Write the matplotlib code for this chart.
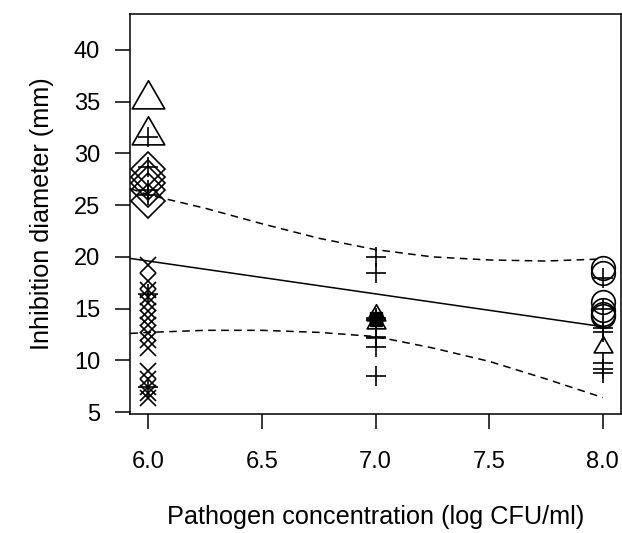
import numpy as np
import matplotlib.pyplot as plt
from matplotlib.path import Path

plt.rcParams['font.family'] = ['Liberation Sans', 'DejaVu Sans']

# values, grouped by plotting symbol
tri_big_x = [6, 6]
tri_big_y = [35.3, 31.8]
tri_x = [7, 7, 8]
tri_y = [14.4, 13.6, 11.3]
dia_x = [6, 6, 6, 6, 6]
dia_y = [28.5, 27.7, 27.1, 26.5, 25.4]
circ_x = [8, 8, 8, 8, 8, 8]
circ_y = [18.9, 18.4, 15.6, 14.9, 14.5, 14.3]
sq_x = [7, 7]
sq_y = [14.1, 13.9]
plus_x = [6, 6, 6, 6, 6, 6,
          7, 7, 7, 7, 7, 7, 7, 7,
          8, 8, 8, 8, 8, 8, 8]
plus_y = [31.6, 28.7, 26.5, 26.0, 16.4, 7.4,
          20.0, 18.4, 14.1, 13.9, 12.3, 12.2, 11.3, 8.5,
          18.0, 15.0, 13.1, 12.7, 9.7, 9.2, 8.8]
cross_x = [6] * 16
cross_y = [19.2, 17.7, 16.8, 16.1, 15.5, 14.8, 14.1, 13.4, 12.6, 12.0,
           11.2, 9.0, 8.2, 7.4, 6.8, 6.4]

# fitted line and confidence band
fit_x = [5.92, 8.0]
fit_y = [19.85, 13.25]
band_x = [5.92, 6.0, 6.25, 6.5, 6.75, 7.0, 7.25, 7.5, 7.75, 8.0]
band_hi = [26.6, 26.0, 24.7, 23.2, 21.8, 20.7, 20.0, 19.7, 19.6, 19.8]
band_lo = [12.6, 12.7, 12.9, 12.9, 12.7, 12.3, 11.2, 9.9, 8.2, 6.4]

xticks = [6.0, 6.5, 7.0, 7.5, 8.0]
yticks = [5, 10, 15, 20, 25, 30, 35, 40]

# R style triangle (centroid at the data point)
r_tri = Path([(0, 1), (0.866, -0.5), (-0.866, -0.5), (0, 1)],
             [Path.MOVETO, Path.LINETO, Path.LINETO, Path.CLOSEPOLY])

fig = plt.figure(figsize=(6.22, 5.33), dpi=100)
ax = fig.add_axes([130.3 / 622, (533 - 413.7) / 533, 490.7 / 622, 399.7 / 533])

mk = dict(linestyle='none', markerfacecolor='none', markeredgecolor='black',
          markeredgewidth=1.2, color='black')
ax.plot(tri_big_x, tri_big_y, marker=r_tri, markersize=27, **mk)
ax.plot(tri_x, tri_y, marker=r_tri, markersize=15.5, **mk)
ax.plot(dia_x, dia_y, marker='D', markersize=17, **mk)
ax.plot(circ_x, circ_y, marker='o', markersize=17, **mk)
ax.plot(plus_x, plus_y, marker='+', markersize=14, **mk)
ax.plot(cross_x, cross_y, marker='x', markersize=11, **mk)
ax.plot(sq_x, sq_y, linestyle='none', marker='s', markersize=9, color='black')

ax.plot(fit_x, fit_y, color='black', lw=1.1)
ax.plot(band_x, band_hi, color='black', lw=1.1, linestyle=(0, (5, 3.5)))
ax.plot(band_x, band_lo, color='black', lw=1.1, linestyle=(0, (5, 3.5)))

ax.set_xlim(5.92, 8.08)
ax.set_ylim(4.84, 43.48)
ax.set_xticks(xticks)
ax.set_xticklabels([f'{t:.1f}' for t in xticks])
ax.set_yticks(yticks)
ax.tick_params(direction='out', length=10.8, width=1.1, labelsize=17)
ax.tick_params(axis='x', pad=16)
ax.tick_params(axis='y', pad=11)
for s in ax.spines.values():
    s.set_linewidth(1.1)

ax.set_xlabel('Pathogen concentration (log CFU/ml)', fontsize=18.2, labelpad=23)
ax.set_ylabel('Inhibition diameter (mm)', fontsize=18.2, labelpad=14)

fig.savefig('out.png', dpi=100)
